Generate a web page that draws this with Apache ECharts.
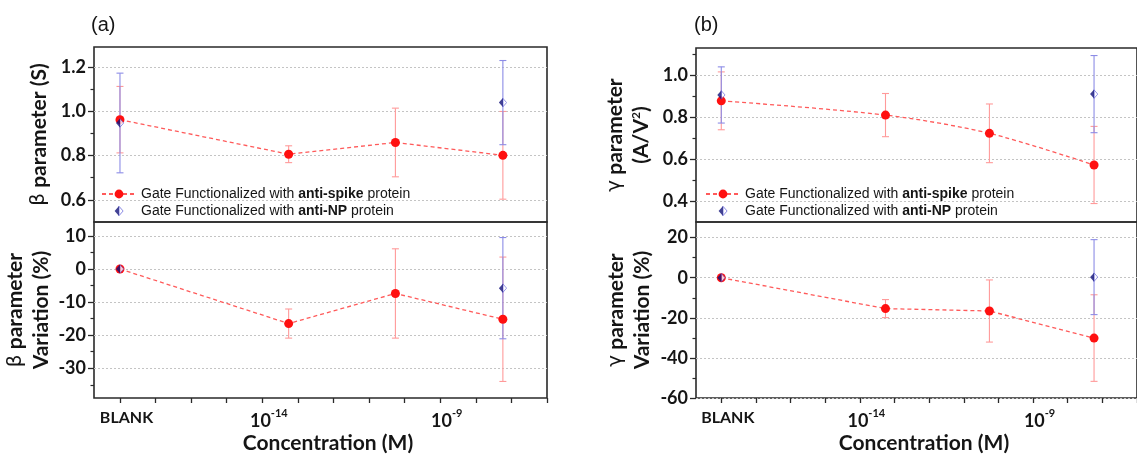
<!DOCTYPE html>
<html>
<head>
<meta charset="utf-8">
<title>β and γ parameters vs concentration</title>
<script src="https://cdn.jsdelivr.net/npm/echarts@6/dist/echarts.min.js"></script>
<style>
  html, body { margin: 0; padding: 0; background: #fff; }
  #chart { width: 1137px; height: 456px; }
</style>
</head>
<body>
<div id="chart"></div>
<script>
// x positions as log10 of concentration (M); BLANK sits in the 1e-18 slot
const spikeX = [-18, -13.26, -10.26, -7.24];
const npX = [-18, -7.24];

// x axis ticks / labels
const xTickValues = [-18, -17, -16, -15, -14, -13, -12, -11, -10, -9, -8, -7, -6];
const xLabelValues = [-18, -14, -9];
const xLabelTexts = ['BLANK', '-14', '-9'];

// (a) beta parameter (S)
const betaSpike = [0.962, 0.806, 0.859, 0.801];
const betaSpikeErr = [0.15, 0.038, 0.155, 0.198];
const betaNP = [0.947, 1.039];
const betaNPErr = [0.225, 0.19];
// (a) beta variation (%)
const betaVarSpike = [0, -16.5, -7.4, -15.2];
const betaVarSpikeErr = [0, 4.4, 13.5, 18.8];
const betaVarNP = [0, -5.8];
const betaVarNPErr = [0, 15.3];

// (b) gamma parameter (A/V^2)
const gammaSpike = [0.878, 0.81, 0.723, 0.572];
const gammaSpikeErr = [0.138, 0.103, 0.14, 0.184];
const gammaNP = [0.906, 0.91];
const gammaNPErr = [0.134, 0.184];
// (b) gamma variation (%)
const gammaVarSpike = [0, -15.4, -16.6, -30.1];
const gammaVarSpikeErr = [0, 4.5, 15.5, 21.6];
const gammaVarNP = [0, 0.3];
const gammaVarNPErr = [0, 18.7];

// y tick values
const betaMajor = [0.6, 0.8, 1.0, 1.2];
const betaMinor = [0.7, 0.9, 1.1];
const betaVarMajor = [-30, -20, -10, 0, 10];
const betaVarMinor = [-35, -25, -15, -5, 5];
const gammaMajor = [0.4, 0.6, 0.8, 1.0];
const gammaMinor = [0.5, 0.7, 0.9, 1.1];
const gammaVarMajor = [-60, -40, -20, 0, 20];
const gammaVarMinor = [-50, -30, -10, 10];

const FONT = 'Lato';
const TXT = '#151515';
const RED = '#ff1010';
const RED_LINE = '#ff5a5a';
const RED_ERR = '#ff9a9a';
const BLUE_ERR = '#8c8ce6';

const npIcon = 'image://data:image/svg+xml;utf8,' + encodeURIComponent(
  "<svg xmlns='http://www.w3.org/2000/svg' width='18' height='20' viewBox='0 0 18 20'>" +
  "<polygon points='9,1.5 16.5,10 9,18.5' fill='#ffffff' stroke='#5a5ad8' stroke-width='1.6'/>" +
  "<polygon points='9,1 1,10 9,19' fill='#12127a'/></svg>");

const chart = echarts.init(document.getElementById('chart'));

function pairs(xs, ys) {
  return xs.map((x, i) => [x, ys[i]]);
}

function errData(xs, ys, es) {
  return xs.map((x, i) => [x, ys[i] - es[i], ys[i] + es[i]]).filter((d, i) => es[i] > 0);
}

function errorBars(color) {
  return function (params, api) {
    const x = api.value(0);
    const lo = api.coord([x, api.value(1)]);
    const hi = api.coord([x, api.value(2)]);
    const cap = 3.5;
    const style = { stroke: color, lineWidth: 1.1 };
    return {
      type: 'group',
      children: [
        { type: 'line', shape: { x1: lo[0], y1: lo[1], x2: hi[0], y2: hi[1] }, style: style },
        { type: 'line', shape: { x1: lo[0] - cap, y1: lo[1], x2: lo[0] + cap, y2: lo[1] }, style: style },
        { type: 'line', shape: { x1: hi[0] - cap, y1: hi[1], x2: hi[0] + cap, y2: hi[1] }, style: style }
      ]
    };
  };
}

function grid(left, top, width, height) {
  return { left: left, top: top, width: width, height: height, show: true,
    borderColor: '#2a2a2a', borderWidth: 1.6, backgroundColor: 'transparent' };
}

function xAxisTop(gi) {
  return { type: 'value', gridIndex: gi, min: -18.73, max: -6, show: false };
}

function xAxisBottom(gi) {
  return {
    type: 'value', gridIndex: gi, position: 'bottom', min: -18.73, max: -6,
    axisLine: { show: false, onZero: false },
    splitLine: { show: false },
    axisTick: { customValues: xTickValues, length: 5, lineStyle: { color: '#2a2a2a', width: 1.3 } },
    axisLabel: {
      customValues: xLabelValues,
      margin: 9,
      padding: [0, 0, 0, 13],
      color: TXT,
      formatter: function (v) {
        const t = xLabelTexts[xLabelValues.indexOf(v)];
        return t === 'BLANK' ? '{blank|BLANK}' : '{n|10}{s|' + t + '}';
      },
      rich: {
        blank: { fontFamily: FONT, fontWeight: 'bold', fontSize: 16, color: TXT, lineHeight: 22 },
        n: { fontFamily: FONT, fontWeight: 'bold', fontSize: 18, color: TXT, lineHeight: 20, padding: [8, 0, 0, 0] },
        s: { fontFamily: FONT, fontWeight: 'bold', fontSize: 11, color: TXT, lineHeight: 12, padding: [4, 0, 12, 0] }
      }
    },
    name: 'Concentration (M)',
    nameLocation: 'middle',
    nameGap: 35,
    nameTextStyle: { fontFamily: FONT, fontWeight: 'bold', fontSize: 21, color: TXT, padding: [0, 0, 0, 15] }
  };
}

const nameRich = {
  g: { fontFamily: 'DejaVu Sans', fontWeight: 'normal', fontSize: 20, color: TXT },
  t: { fontFamily: FONT, fontWeight: 'bold', fontSize: 21, color: TXT },
  sup: { fontFamily: FONT, fontWeight: 'bold', fontSize: 12, color: TXT, padding: [0, 0, 9, 0] }
};

function yMajor(gi, min, max, ticks, name, gap, digits) {
  return {
    type: 'value', gridIndex: gi, position: 'left', min: min, max: max,
    axisLine: { show: false, onZero: false },
    axisTick: { customValues: ticks, length: 6, lineStyle: { color: '#2a2a2a', width: 1.3 } },
    axisLabel: {
      customValues: ticks, margin: 8, color: TXT,
      fontFamily: FONT, fontWeight: 'bold', fontSize: 18,
      formatter: function (v) { return v.toFixed(digits); }
    },
    splitLine: { show: true, lineStyle: { color: '#c4c4c4', type: [2, 2], width: 1 } },
    name: name,
    nameLocation: 'middle',
    nameGap: gap,
    nameTextStyle: { fontFamily: FONT, fontWeight: 'bold', fontSize: 21, color: TXT, lineHeight: 26, rich: nameRich }
  };
}

function yMinor(gi, min, max, ticks) {
  return {
    type: 'value', gridIndex: gi, position: 'left', min: min, max: max,
    axisLine: { show: false, onZero: false },
    axisLabel: { show: false },
    splitLine: { show: false },
    axisTick: { customValues: ticks, length: 3.5, lineStyle: { color: '#2a2a2a', width: 1.2 } }
  };
}

function panelSeries(gi, sY, sE, nY, nE, smooth) {
  return [
    { type: 'custom', xAxisIndex: gi, yAxisIndex: gi, z: 2, silent: true,
      renderItem: errorBars(RED_ERR), data: errData(spikeX, sY, sE) },
    { type: 'custom', xAxisIndex: gi, yAxisIndex: gi, z: 2, silent: true,
      renderItem: errorBars(BLUE_ERR), data: errData(npX, nY, nE) },
    { name: 'spike', type: 'line', xAxisIndex: gi, yAxisIndex: gi, z: 3,
      smooth: smooth, symbol: 'circle', symbolSize: 9,
      itemStyle: { color: RED },
      lineStyle: { color: RED_LINE, width: 1.3, type: [4, 3] },
      data: pairs(spikeX, sY) },
    { name: 'np', type: 'scatter', xAxisIndex: gi, yAxisIndex: gi, z: 4,
      symbol: npIcon, symbolSize: [9, 10],
      itemStyle: { color: '#12127a' },
      data: pairs(npX, nY) }
  ];
}

function legend(left) {
  return {
    left: left, top: 187, orient: 'vertical', padding: 0,
    itemWidth: 34, itemHeight: 11, itemGap: 3,
    data: ['spike', { name: 'np', icon: npIcon }],
    formatter: function (name) {
      return 'Gate Functionalized with {b|' + (name === 'spike' ? 'anti-spike' : 'anti-NP') + '} protein';
    },
    textStyle: {
      fontFamily: 'Liberation Sans', fontSize: 14, color: TXT,
      rich: { b: { fontFamily: 'Liberation Sans', fontSize: 14, fontWeight: 'bold', color: TXT } }
    },
    selectedMode: false
  };
}

const option = {
  animation: false,
  backgroundColor: '#ffffff',
  title: [
    { text: '(a)', left: 91, top: 15, padding: 0, textStyle: { fontFamily: 'Liberation Sans', fontWeight: 'normal', fontSize: 20, color: TXT } },
    { text: '(b)', left: 694, top: 15, padding: 0, textStyle: { fontFamily: 'Liberation Sans', fontWeight: 'normal', fontSize: 20, color: TXT } }
  ],
  legend: [legend(101), legend(705)],
  grid: [grid(94, 47, 453, 175), grid(94, 222, 453, 176), grid(696, 48, 451, 174), grid(696, 222, 451, 176)],
  xAxis: [xAxisTop(0), xAxisBottom(1), xAxisTop(2), xAxisBottom(3)],
  yAxis: [
    yMajor(0, 0.5, 1.29, betaMajor, '{g|β}{t| parameter (S)}', 42, 1),
    yMajor(1, -39, 14.2, betaVarMajor, '{g|β}{t| parameter}\n{t|Variation (%)}', 38, 0),
    yMajor(2, 0.3, 1.13, gammaMajor, '{g|γ}{t| parameter}\n{t|(A/V}{sup|2}{t|)}', 42, 1),
    yMajor(3, -60, 27.8, gammaVarMajor, '{g|γ}{t| parameter}\n{t|Variation (%)}', 41, 0),
    yMinor(0, 0.5, 1.29, betaMinor),
    yMinor(1, -39, 14.2, betaVarMinor),
    yMinor(2, 0.3, 1.13, gammaMinor),
    yMinor(3, -60, 27.8, gammaVarMinor)
  ],
  series: [].concat(
    panelSeries(0, betaSpike, betaSpikeErr, betaNP, betaNPErr, false),
    panelSeries(1, betaVarSpike, betaVarSpikeErr, betaVarNP, betaVarNPErr, false),
    panelSeries(2, gammaSpike, gammaSpikeErr, gammaNP, gammaNPErr, 0.3),
    panelSeries(3, gammaVarSpike, gammaVarSpikeErr, gammaVarNP, gammaVarNPErr, false)
  )
};

chart.setOption(option);
window.addEventListener('resize', function () { chart.resize(); });
</script>
</body>
</html>
